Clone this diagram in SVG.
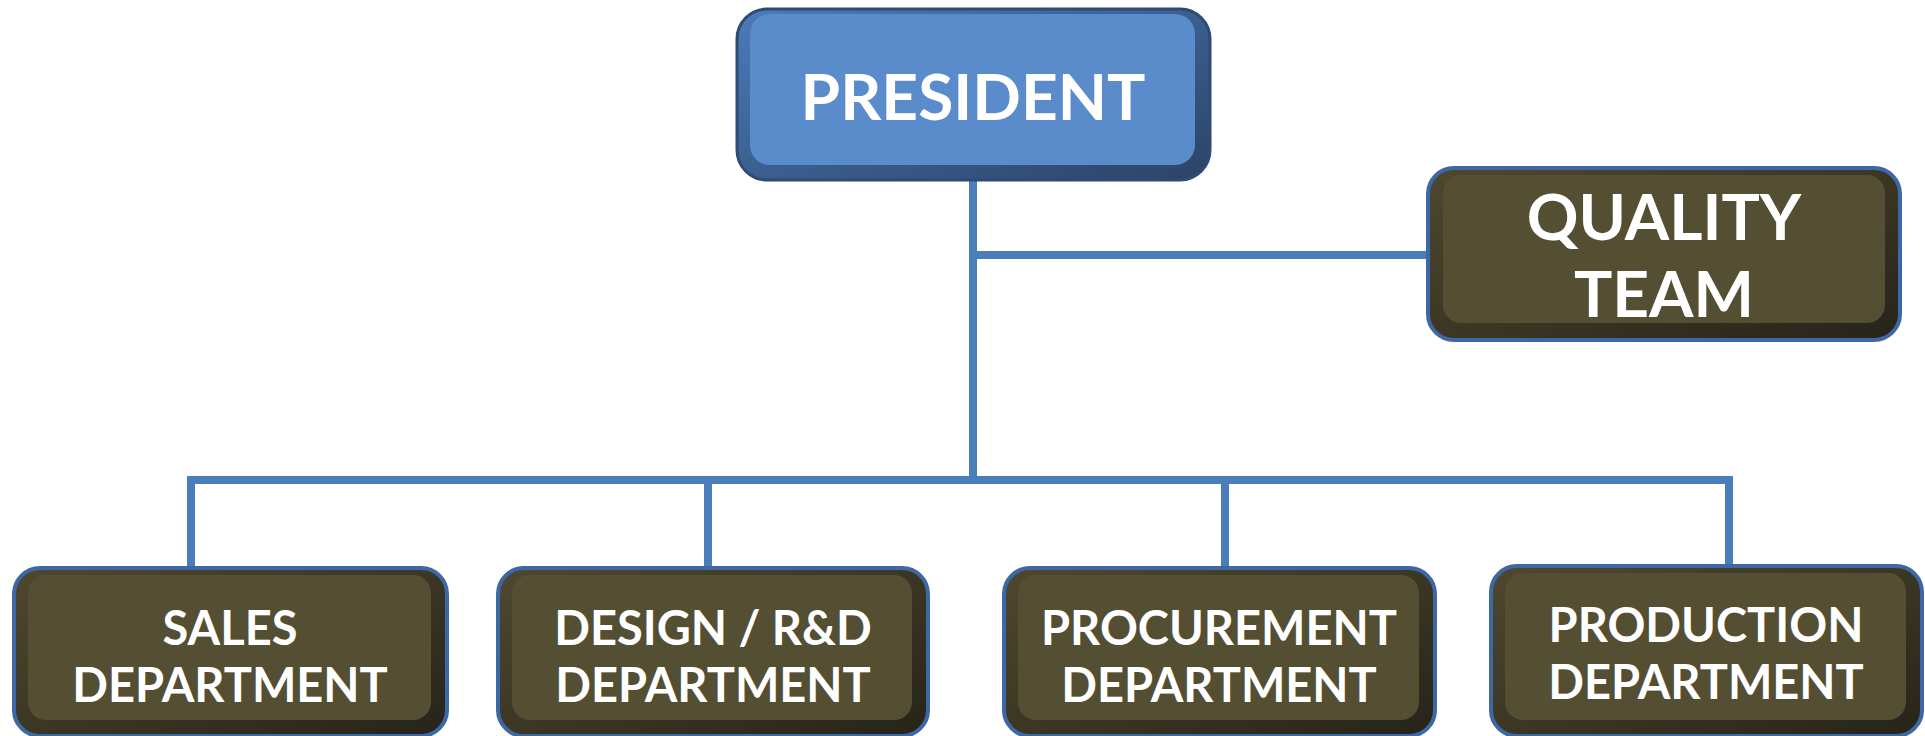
<svg xmlns="http://www.w3.org/2000/svg" width="1925" height="736" viewBox="0 0 1925 736">
  <defs>
    <linearGradient id="oliveEdge" x1="0" y1="0" x2="1" y2="1">
      <stop offset="0" stop-color="#4E4830"/>
      <stop offset="0.5" stop-color="#3C3724"/>
      <stop offset="1" stop-color="#26231A"/>
    </linearGradient>
    <linearGradient id="blueEdge" x1="0" y1="0" x2="1" y2="1">
      <stop offset="0" stop-color="#4A7BBA"/>
      <stop offset="0.5" stop-color="#3B5F90"/>
      <stop offset="1" stop-color="#2C4366"/>
    </linearGradient>
  </defs>
  <style>
    .conn { stroke: #4A7EBB; stroke-width: 8; fill: none; stroke-linecap: square; }
    .dept-outer { fill: url(#oliveEdge); stroke: #3E67A5; stroke-width: 4; }
    .dept-face { fill: #544E33; }
    .pres-outer { fill: url(#blueEdge); stroke: #2F4B74; stroke-width: 3; }
    .pres-face { fill: #5A8BCB; }
    .lbl { font-family: Lato, "Noto Sans", "DejaVu Sans", sans-serif; font-weight: bold; fill: #FFFFFF; text-anchor: middle; }
    .big { font-size: 64px; }
    .small { font-size: 47px; }
  </style>
  <rect width="1925" height="736" fill="#FFFFFF"/>

  <g id="connectors">
    <line class="conn" x1="973" y1="182" x2="973" y2="480"/>
    <line class="conn" x1="973" y1="255" x2="1425" y2="255"/>
    <line class="conn" x1="191" y1="480" x2="1729" y2="480"/>
    <line class="conn" x1="191" y1="480" x2="191" y2="566"/>
    <line class="conn" x1="708" y1="480" x2="708" y2="566"/>
    <line class="conn" x1="1225" y1="480" x2="1225" y2="566"/>
    <line class="conn" x1="1729" y1="480" x2="1729" y2="565"/>
  </g>

  <g id="president">
    <rect class="pres-outer" x="737" y="9" width="473" height="171" rx="30"/>
    <rect class="pres-face" x="750" y="14" width="445" height="151" rx="20"/>
    <text class="lbl big" x="973" y="120">PRESIDENT</text>
  </g>

  <g id="quality-team">
    <rect class="dept-outer" x="1428" y="168" width="472" height="172" rx="26"/>
    <rect class="dept-face" x="1443" y="175" width="442" height="148" rx="18"/>
    <text class="lbl big" x="1664" y="240">QUALITY</text>
    <text class="lbl big" x="1664" y="317">TEAM</text>
  </g>

  <g id="sales">
    <rect class="dept-outer" x="14" y="568" width="433" height="168" rx="26"/>
    <rect class="dept-face" x="28" y="575" width="403" height="145" rx="18"/>
    <text class="lbl small" x="230" y="645">SALES</text>
    <text class="lbl small" x="230" y="702">DEPARTMENT</text>
  </g>

  <g id="design-rd">
    <rect class="dept-outer" x="498" y="568" width="430" height="168" rx="26"/>
    <rect class="dept-face" x="512" y="575" width="400" height="145" rx="18"/>
    <text class="lbl small" x="713" y="645">DESIGN / R&amp;D</text>
    <text class="lbl small" x="713" y="702">DEPARTMENT</text>
  </g>

  <g id="procurement">
    <rect class="dept-outer" x="1004" y="568" width="431" height="168" rx="26"/>
    <rect class="dept-face" x="1018" y="575" width="401" height="145" rx="18"/>
    <text class="lbl small" x="1219" y="645">PROCUREMENT</text>
    <text class="lbl small" x="1219" y="702">DEPARTMENT</text>
  </g>

  <g id="production">
    <rect class="dept-outer" x="1491" y="566" width="431" height="170" rx="26"/>
    <rect class="dept-face" x="1505" y="573" width="401" height="147" rx="18"/>
    <text class="lbl small" x="1706" y="642">PRODUCTION</text>
    <text class="lbl small" x="1706" y="699">DEPARTMENT</text>
  </g>
</svg>
